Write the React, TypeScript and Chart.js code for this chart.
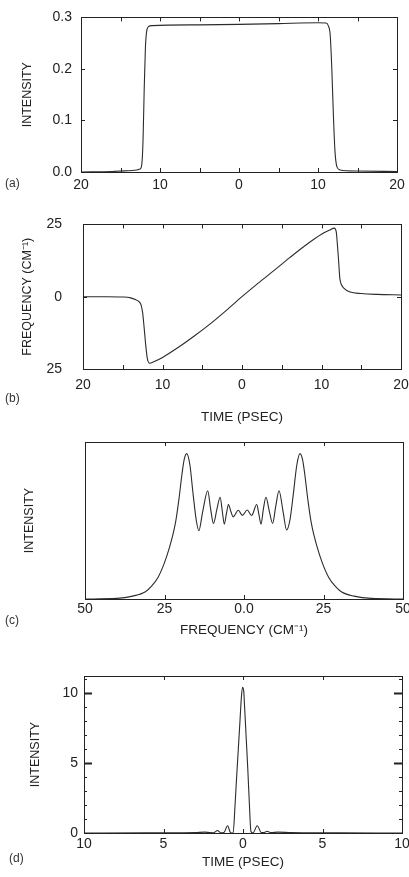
import React, { useEffect, useRef } from 'react';
import { Chart, registerables } from 'chart.js';

Chart.register(...registerables);

const FONT = '"Liberation Sans", Arial, Helvetica, sans-serif';
const INK = '#222222';
const CW = 430;

// ---------- Panel (a): intensity vs time ----------
const timeA = [-20, -16, -13.5, -12.5, -12.3, -12.15, -12.0, -11.85, -11.7, -11.45, -11.0, -5, 0, 5, 10, 11.0, 11.3, 11.55, 11.75, 11.95, 12.15, 12.4, 12.8, 15, 20];
const intensityA = [0, 0.001, 0.003, 0.006, 0.015, 0.06, 0.16, 0.24, 0.272, 0.282, 0.284, 0.2855, 0.2865, 0.288, 0.2895, 0.289, 0.284, 0.265, 0.2, 0.11, 0.04, 0.01, 0.004, 0.002, 0.001];
const xTicksA = [-20, -10, 0, 10, 20];
const xMarksA = [-15, -10, -5, 0, 5, 10, 15];
const yTicksA = [0, 0.1, 0.2, 0.3];

// ---------- Panel (b): frequency vs time ----------
const timeB = [-20, -17, -15, -14, -13.4, -13.0, -12.7, -12.5, -12.3, -12.1, -11.9, -11.6, -11.1, -10, -8, -6, -4, -2, 0, 2, 4, 6, 8, 10, 11.0, 11.6, 11.85, 12.0, 12.15, 12.3, 12.5, 12.8, 13.6, 15, 17, 20];
const freqB = [0, 0, -0.1, -0.4, -1.0, -1.6, -2.8, -5.5, -11, -17, -21.5, -23, -22.5, -21, -17.5, -13.6, -9.4, -4.8, 0, 4.6, 9.0, 13.5, 17.8, 21.6, 23.0, 23.7, 22.5, 18, 12.5, 6.5, 4.2, 3.0, 1.6, 1.1, 0.8, 0.6];
const xTicksB = [-20, -10, 0, 10, 20];
const xMarksB = [-15, -10, -5, 0, 5, 10, 15];
const yTicksB = [-25, 0, 25];

// ---------- Panel (c): spectrum ----------
const freqC = [-50, -40, -35, -31, -29, -27, -25, -23.5, -22.5, -21.5, -20.5, -19.5, -18.8, -18, -17, -16, -15, -14.2, -13, -11.4, -10.5, -9.6, -8.5, -7.5, -6.8, -6.2, -5.5, -4.9, -4.1, -3.4, -1.8, -0.5, 1.0, 2.4, 4.0, 4.7, 5.35, 6.1, 6.9, 8.0, 9.0, 10.0, 11.0, 12.3, 13.4, 14.5, 15.5, 16.6, 17.6, 18.4, 19.1, 20.1, 21.1, 22.1, 23.1, 24.6, 26.6, 28.6, 30.6, 34.6, 40, 50];
const intensityC = [0, 0.004, 0.02, 0.05, 0.09, 0.15, 0.25, 0.35, 0.43, 0.53, 0.68, 0.86, 0.96, 1.0, 0.92, 0.72, 0.54, 0.47, 0.6, 0.745, 0.62, 0.52, 0.62, 0.70, 0.6, 0.515, 0.59, 0.65, 0.6, 0.565, 0.61, 0.575, 0.612, 0.574, 0.65, 0.58, 0.515, 0.62, 0.70, 0.6, 0.52, 0.64, 0.745, 0.6, 0.475, 0.55, 0.72, 0.92, 1.0, 0.96, 0.86, 0.68, 0.53, 0.43, 0.35, 0.25, 0.15, 0.09, 0.05, 0.02, 0.004, 0];
const xTicksC = [-50, -25, 0, 25, 50];
const xMarksC = [-25, 0, 25];

// ---------- Panel (d): compressed pulse ----------
const timeD = [-10, -6, -4, -3, -2.4, -2.1, -1.85, -1.6, -1.4, -1.2, -0.97, -0.78, -0.62, -0.5, -0.4, -0.3, -0.2, -0.1, -0.03, 0.04, 0.1, 0.2, 0.3, 0.4, 0.5, 0.62, 0.9, 1.15, 1.3, 1.52, 1.75, 2.2, 3, 4, 6, 10];
const intensityD = [0, 0.01, 0.02, 0.03, 0.06, 0.03, 0.02, 0.18, 0.02, 0.04, 0.52, 0.02, 0, 2.0, 4.0, 5.9, 7.8, 9.7, 10.4, 10.2, 9.0, 6.8, 4.6, 2.1, 0.1, 0, 0.52, 0.03, 0.03, 0.12, 0.03, 0.06, 0.03, 0.02, 0.01, 0];
const xTicksD = [-10, -5, 0, 5, 10];
const xMarksD = [-5, 0, 5];
const yTicksD = [0, 5, 10];
const yMinorD = [1, 2, 3, 4, 6, 7, 8, 9, 11];

const framePlugin = {
  id: 'frame',
  afterDraw(chart: any, _args: any, opts: any) {
    const { ctx, chartArea: a, scales } = chart;
    const sx = scales.x;
    const sy = scales.y;
    ctx.save();
    ctx.strokeStyle = INK;
    ctx.lineWidth = 1;
    ctx.strokeRect(Math.round(a.left) + 0.5, Math.round(a.top) + 0.5, Math.round(a.right - a.left), Math.round(a.bottom - a.top));
    const xMarks = (vals: number[], len: number, w: number) => {
      ctx.lineWidth = w;
      vals.forEach((v) => {
        const p = Math.round(sx.getPixelForValue(v)) + 0.5;
        ctx.beginPath();
        ctx.moveTo(p, a.bottom);
        ctx.lineTo(p, a.bottom - len);
        ctx.moveTo(p, a.top);
        ctx.lineTo(p, a.top + len);
        ctx.stroke();
      });
    };
    const yMarks = (vals: number[], len: number, w: number) => {
      ctx.lineWidth = w;
      vals.forEach((v) => {
        const p = Math.round(sy.getPixelForValue(v)) + 0.5;
        ctx.beginPath();
        ctx.moveTo(a.left, p);
        ctx.lineTo(a.left + len, p);
        ctx.moveTo(a.right, p);
        ctx.lineTo(a.right - len, p);
        ctx.stroke();
      });
    };
    if (opts.xMarks) xMarks(opts.xMarks, opts.xLen || 4, 1);
    if (opts.yMarks) yMarks(opts.yMarks, opts.yLen || 4, opts.yWidth || 1);
    if (opts.yMinor) yMarks(opts.yMinor, 3, 1);
    ctx.restore();
  },
};

type PanelProps = {
  canvasTop: number;
  area: { l: number; r: number; t: number; b: number };
  xHeight: number;
  xs: number[];
  ys: number[];
  xMin: number;
  xMax: number;
  yMin: number;
  yMax: number;
  xTicks: number[];
  yTicks: number[];
  xFmt: (v: number) => string;
  yFmt: (v: number) => string;
  showY: boolean;
  yPad: number;
  xPad: number;
  yTitle: string;
  yTitleX: number;
  xTitle?: string;
  marks: any;
};

function Panel(p: PanelProps) {
  const ref = useRef<HTMLCanvasElement | null>(null);
  const height = p.area.b + p.xHeight - p.canvasTop;
  useEffect(() => {
    if (!ref.current) return;
    const yTitleSize = 12.5;
    const xTitleSize = 13.5;
    const chart = new Chart(ref.current, {
      type: 'line',
      data: {
        datasets: [
          {
            data: p.xs.map((x, i) => ({ x, y: p.ys[i] })),
            borderColor: '#2b2b2b',
            borderWidth: 1.1,
            pointRadius: 0,
            fill: false,
            cubicInterpolationMode: 'monotone',
          } as any,
        ],
      },
      options: {
        animation: false,
        responsive: false,
        events: [],
        layout: {
          padding: { left: 0, top: p.area.t - p.canvasTop, right: CW - p.area.r, bottom: 0 },
        },
        plugins: {
          legend: { display: false },
          tooltip: { enabled: false },
          frame: p.marks,
        } as any,
        scales: {
          x: {
            type: 'linear',
            min: p.xMin,
            max: p.xMax,
            afterBuildTicks: (s: any) => {
              s.ticks = p.xTicks.map((v) => ({ value: v }));
            },
            afterFit: (s: any) => {
              s.height = p.xHeight;
            },
            grid: { display: false, drawTicks: false },
            border: { display: false },
            ticks: {
              autoSkip: false,
              maxRotation: 0,
              padding: p.xPad,
              color: INK,
              font: { family: FONT, size: 14 },
              callback: (v: any) => p.xFmt(Number(v)),
            },
            title: {
              display: !!p.xTitle,
              text: p.xTitle || '',
              color: INK,
              font: { family: FONT, size: xTitleSize },
              padding: { top: 0, bottom: 0 },
            },
          },
          y: {
            type: 'linear',
            min: p.yMin,
            max: p.yMax,
            afterBuildTicks: (s: any) => {
              s.ticks = p.yTicks.map((v) => ({ value: v }));
            },
            afterFit: (s: any) => {
              s.width = p.area.l;
            },
            grid: { display: false, drawTicks: false },
            border: { display: false },
            ticks: {
              display: p.showY,
              autoSkip: false,
              padding: p.yPad,
              color: INK,
              font: { family: FONT, size: 14 },
              callback: (v: any) => p.yFmt(Number(v)),
            },
            title: {
              display: true,
              text: p.yTitle,
              color: INK,
              font: { family: FONT, size: yTitleSize },
              padding: { top: p.yTitleX - (yTitleSize * 1.2) / 2, bottom: 0 },
            },
          },
        },
      } as any,
      plugins: [framePlugin as any],
    });
    return () => chart.destroy();
  }, []);
  return (
    <canvas
      ref={ref}
      width={CW}
      height={height}
      style={{ position: 'absolute', left: 0, top: p.canvasTop, width: CW, height }}
    />
  );
}

const absFmt = (v: number) => String(Math.abs(v));

const tag: React.CSSProperties = {
  position: 'absolute',
  fontFamily: FONT,
  fontSize: 12,
  color: '#333',
  lineHeight: '14px',
};

export default function App() {
  return (
    <div style={{ position: 'absolute', left: 0, top: 0, width: 409, height: 877, overflow: 'hidden', background: '#fff' }}>
      <Panel
        canvasTop={0}
        area={{ l: 81, r: 397, t: 14, b: 172 }}
        xHeight={30}
        xs={timeA}
        ys={intensityA}
        xMin={-20}
        xMax={20}
        yMin={0}
        yMax={0.3}
        xTicks={xTicksA}
        yTicks={yTicksA}
        xFmt={absFmt}
        yFmt={(v) => v.toFixed(1)}
        showY={true}
        yPad={9}
        xPad={5}
        yTitle="INTENSITY"
        yTitleX={28}
        marks={{ xMarks: xMarksA, yMarks: [0.1, 0.2], xLen: 4, yLen: 4 }}
      />
      <Panel
        canvasTop={195}
        area={{ l: 83, r: 401, t: 211, b: 369 }}
        xHeight={56}
        xs={timeB}
        ys={freqB}
        xMin={-20}
        xMax={20}
        yMin={-25}
        yMax={25}
        xTicks={xTicksB}
        yTicks={yTicksB}
        xFmt={absFmt}
        yFmt={absFmt}
        showY={true}
        yPad={21}
        xPad={8}
        yTitle="FREQUENCY (CM⁻¹)"
        yTitleX={28}
        xTitle="TIME (PSEC)"
        marks={{ xMarks: xMarksB, yMarks: [0], xLen: 4, yLen: 4 }}
      />
      <Panel
        canvasTop={430}
        area={{ l: 85, r: 403, t: 442, b: 599 }}
        xHeight={39}
        xs={freqC}
        ys={intensityC}
        xMin={-50}
        xMax={50}
        yMin={0}
        yMax={1.08}
        xTicks={xTicksC}
        yTicks={[]}
        xFmt={(v) => (v === 0 ? '0.0' : String(Math.abs(v)))}
        yFmt={() => ''}
        showY={false}
        yPad={6}
        xPad={2}
        yTitle="INTENSITY"
        yTitleX={30}
        xTitle="FREQUENCY (CM⁻¹)"
        marks={{ xMarks: xMarksC, xLen: 4 }}
      />
      <Panel
        canvasTop={660}
        area={{ l: 84, r: 402, t: 676, b: 833 }}
        xHeight={37}
        xs={timeD}
        ys={intensityD}
        xMin={-10}
        xMax={10}
        yMin={0}
        yMax={11.2}
        xTicks={xTicksD}
        yTicks={yTicksD}
        xFmt={absFmt}
        yFmt={(v) => String(v)}
        showY={true}
        yPad={6}
        xPad={3}
        yTitle="INTENSITY"
        yTitleX={36}
        xTitle="TIME (PSEC)"
        marks={{ xMarks: xMarksD, yMarks: [5, 10], yLen: 8, yWidth: 2.2, yMinor: yMinorD, xLen: 4 }}
      />
      <div style={{ ...tag, left: 5, top: 176 }}>(a)</div>
      <div style={{ ...tag, left: 5, top: 391 }}>(b)</div>
      <div style={{ ...tag, left: 5, top: 613 }}>(c)</div>
      <div style={{ ...tag, left: 9, top: 851 }}>(d)</div>
    </div>
  );
}
